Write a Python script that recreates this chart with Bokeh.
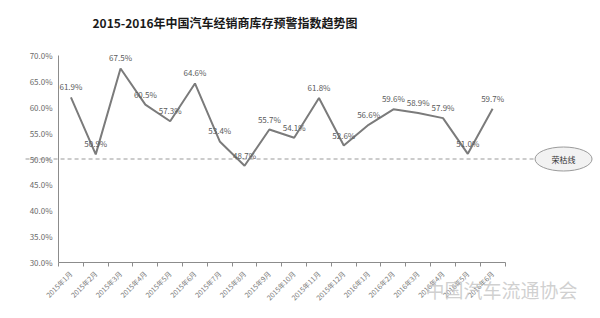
from bokeh.plotting import figure
from bokeh.models import (Range1d, FixedTicker, ColumnDataSource, Label, LinearAxis)
from bokeh.core.properties import value
from bokeh.embed import file_html
from bokeh.resources import INLINE
import math

months = ["2015年1月", "2015年2月", "2015年3月", "2015年4月", "2015年5月", "2015年6月",
          "2015年7月", "2015年8月", "2015年9月", "2015年10月", "2015年11月", "2015年12月",
          "2016年1月", "2016年2月", "2016年3月", "2016年4月", "2016年5月", "2016年6月"]
index_values = [61.9, 50.9, 67.5, 60.5, 57.3, 64.6, 53.4, 48.7, 55.7, 54.1, 61.8, 52.6,
                56.6, 59.6, 58.9, 57.9, 51.0, 59.7]
y_ticks = [30, 35, 40, 45, 50, 55, 60, 65, 70]
y_tick_labels = ["30.0%", "35.0%", "40.0%", "45.0%", "50.0%", "55.0%", "60.0%", "65.0%", "70.0%"]
threshold = 50.0
threshold_label = "荣枯线"
title_text = "2015-2016年中国汽车经销商库存预警指数趋势图"
watermark_text = "中国汽车流通协会"

CJK = "Noto Sans CJK SC"
n = len(months)
xs = list(range(n))
y_lo, y_hi = y_ticks[0], y_ticks[-1]
x_first = -0.5

p = figure(width=600, height=318, output_backend="svg", toolbar_location=None,
           x_range=Range1d(-2.84, n + 3.35), y_range=Range1d(19.18, 80.63),
           min_border_left=0, min_border_right=0, min_border_top=0, min_border_bottom=0,
           x_axis_type=None, y_axis_type=None)
p.outline_line_color = None
p.xgrid.visible = False
p.ygrid.visible = False
p.background_fill_color = "white"
p.border_fill_color = "white"

# y axis fixed at the left edge of the category band
yax = LinearAxis(ticker=FixedTicker(ticks=y_ticks), bounds=(y_lo, y_hi), fixed_location=x_first,
                 major_label_overrides={t_: l for t_, l in zip(y_ticks, y_tick_labels)})
yax.axis_line_color = "#8c8c8c"
yax.major_tick_out = 0
yax.major_tick_in = 0
yax.minor_tick_out = 0
yax.major_label_text_font = CJK
yax.major_label_text_font_size = "8px"
yax.major_label_text_color = "#6a6a6a"
yax.major_label_standoff = 6
p.add_layout(yax, "left")

# x axis fixed at the bottom of the value scale
xax = LinearAxis(ticker=FixedTicker(ticks=xs, minor_ticks=[i - 0.5 for i in range(n + 1)]),
                 major_label_overrides={i: m for i, m in enumerate(months)},
                 bounds=(x_first, n - 0.5), fixed_location=y_lo)
xax.axis_line_color = "#8c8c8c"
xax.major_tick_out = 0
xax.major_tick_in = 0
xax.minor_tick_out = 4
xax.minor_tick_in = 0
xax.minor_tick_line_color = "#8c8c8c"
xax.major_label_orientation = math.pi / 4
xax.major_label_text_font = CJK
xax.major_label_text_font_size = "7px"
xax.major_label_text_color = "#7a7a7a"
xax.major_label_standoff = 6
p.add_layout(xax, "below")

# threshold dashed line
p.line(x=[-1.83, n + 0.73], y=[threshold, threshold], line_color="#9a9a9a",
       line_dash="4 3", line_width=1.2)
p.ellipse(x=[n + 1.86], y=[threshold], width=57, height=24, width_units="screen",
          height_units="screen", fill_color="#f2f2f2", line_color="#9a9a9a", line_width=1)
p.text(x=[n + 1.86], y=[threshold], text=[threshold_label], text_align="center",
       text_baseline="middle", text_font=value(CJK), text_font_size="8px", text_color="#333333")

# data line
src = ColumnDataSource(dict(x=xs, y=index_values, lab=[f"{v:.1f}%" for v in index_values]))
p.line("x", "y", source=src, line_color="#7b7b7b", line_width=2)
p.text("x", "y", text="lab", source=src, text_align="center", text_baseline="bottom",
       y_offset=-5, text_font=value(CJK), text_font_size="8px", text_color="#5a5a5a")

# title
title = Label(x=92, y=296, x_units="screen", y_units="screen", text=title_text,
              text_font=CJK, text_font_size="12px", text_font_style="bold",
              text_color="#1a1a1a", text_baseline="alphabetic")
p.add_layout(title)

# watermark
wm = Label(x=425, y=29, x_units="screen", y_units="screen", text=watermark_text,
           text_font=CJK, text_font_size="19px", text_color="#c8c8c8", text_alpha=0.85,
           text_baseline="alphabetic")
p.add_layout(wm)

open("out.html", "w").write(file_html(p, INLINE))
